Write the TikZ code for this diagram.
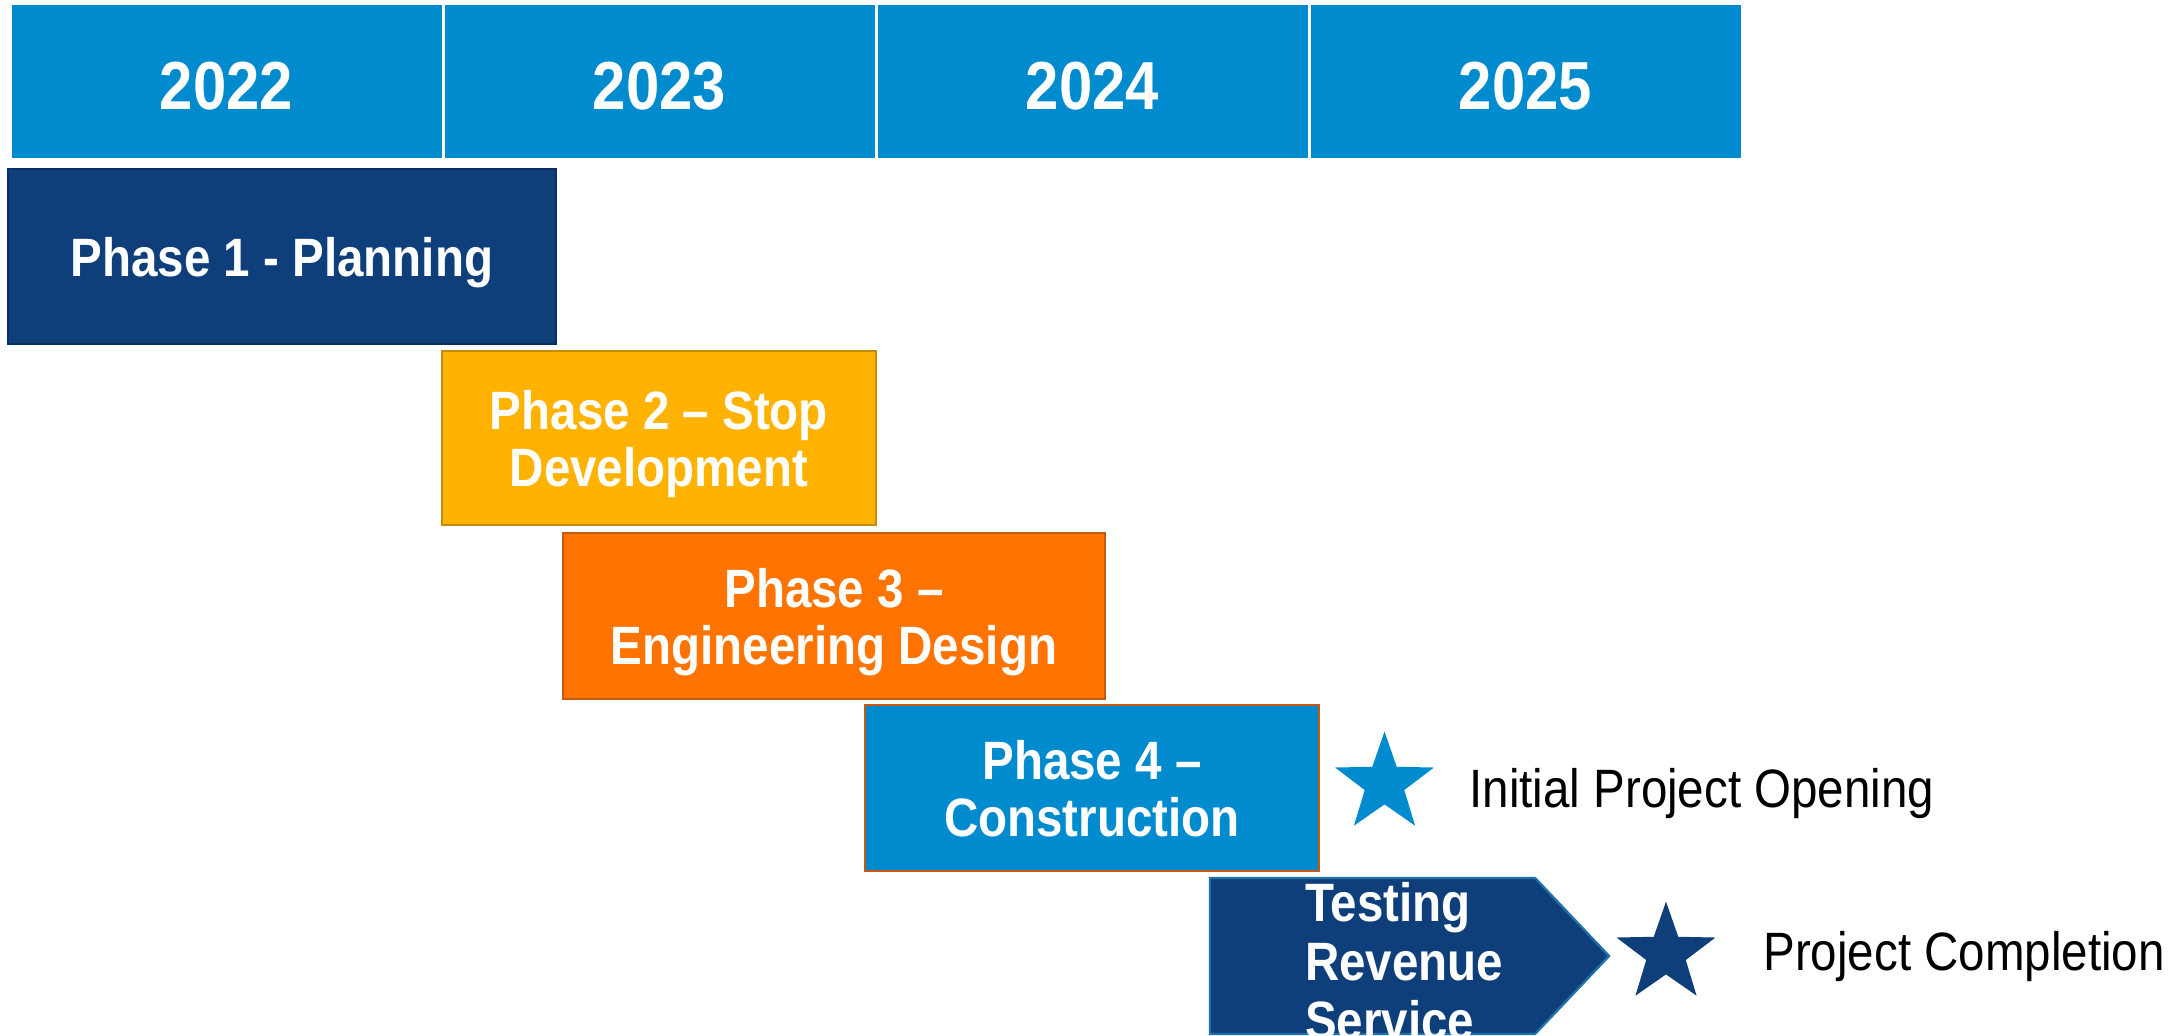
\documentclass[tikz,border=0pt]{standalone}
\usepackage{fontspec}
\setmainfont{Liberation Sans}[FakeStretch=0.88]
\usetikzlibrary{shapes.geometric}
\definecolor{yearblue}{RGB}{0,139,206}
\definecolor{navy}{RGB}{15,63,123}
\definecolor{amber}{RGB}{255,179,0}
\definecolor{tangerine}{RGB}{255,115,0}
\definecolor{rust}{RGB}{197,90,17}
\definecolor{gold}{RGB}{196,140,10}
\definecolor{tealedge}{RGB}{31,111,168}
\tikzset{year/.style = {rectangle,fill=yearblue,draw=white,line width=1.5pt,text=white,font=\fontsize{34}{40}\selectfont\bfseries,text height=28pt,text depth=0pt,minimum width=216.5pt,minimum height=78pt}}
\tikzset{phase/.style = {rectangle,line width=1.2pt,text=white,align=center,text depth=0pt,font=\fontsize{27}{28.5}\selectfont\bfseries}}
\tikzset{milestone/.style = {star,star points=5,star point ratio=2.5,inner sep=0pt,minimum size=52pt}}
\tikzset{note/.style = {anchor=west,inner sep=0pt,text depth=0pt,font=\fontsize{27}{30}\selectfont}}

\begin{document}
\begin{tikzpicture}[x=0.5pt,y=-0.5pt]
		\useasboundingbox (0,0) rectangle (2184,1036);
		\clip (0,0) rectangle (2184,1036);
		% years
		\node[year] (y22) at (226.5,82) {2022};
		\node[year] (y23) at (659.5,82) {2023};
		\node[year] (y24) at (1092.5,82) {2024};
		\node[year] (y25) at (1525.5,82) {2025};
		% phases
		\node[phase,fill=navy,draw=navy!75!black,minimum width=274pt,minimum height=87.5pt] (p1) at (282,256.5) {Phase 1 - Planning};
		\node[phase,fill=amber,draw=gold,minimum width=217pt,minimum height=87pt] (p2) at (659,438) {Phase 2 -- Stop\\Development};
		\node[phase,fill=tangerine,draw=rust,minimum width=271pt,minimum height=83pt] (p3) at (834,616) {Phase 3 --\\Engineering Design};
		\node[phase,fill=yearblue,draw=rust,minimum width=227pt,minimum height=83pt] (p4) at (1092,788) {Phase 4 --\\Construction};
		% testing
		\filldraw[fill=navy,draw=tealedge,line width=1.2pt] (1210,878) -- (1535,878) -- (1609,956) -- (1535,1034) -- (1210,1034) -- cycle;
		\node[phase,anchor=west,align=left,inner sep=0pt,font=\fontsize{27}{29.5}\selectfont\bfseries] (test) at (1304,961) {Testing\\Revenue\\Service};
		% milestones
		\node[milestone,fill=yearblue] (m1) at (1384.5,783.6) {};
		\node[note] (n1) at (1469,788) {Initial Project Opening};
		\node[milestone,fill=navy] (m2) at (1666,953.6) {};
		\node[note] (n2) at (1763,951) {Project Completion};
	\end{tikzpicture}
\end{document}
